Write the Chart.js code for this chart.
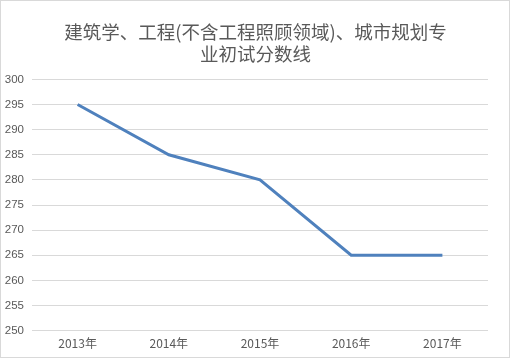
<!DOCTYPE html>
<html><head><meta charset="utf-8">
<script src="https://cdn.jsdelivr.net/npm/chart.js@4"></script>
<style>
html,body{margin:0;padding:0;background:#fff;}
#wrap{width:510px;height:358px;box-sizing:border-box;border:1px solid #d9d9d9;position:relative;}
canvas{display:block;}
</style></head>
<body>
<div id="wrap"><canvas id="c" width="508" height="356"></canvas></div>
<script>
const categories = ["2013年","2014年","2015年","2016年","2017年"];
const scores = [295, 285, 280, 265, 265];
const titleLines = ["建筑学、工程(不含工程照顾领域)、城市规划专","业初试分数线"];
const yMin = 250, yMax = 300, yStep = 5;

const shiftTitle = {
  id: 'shiftTitle',
  afterLayout(chart) {
    const t = chart.titleBlock;
    if (t) { t.left += 10; t.right += 10; }
  }
};

new Chart(document.getElementById('c'), {
  type: 'line',
  data: {
    labels: categories,
    datasets: [{
      data: scores,
      borderColor: '#4f81bd',
      borderWidth: 3,
      pointRadius: 0,
      tension: 0,
      fill: false
    }]
  },
  options: {
    responsive: false,
    animation: false,
    devicePixelRatio: 1,
    layout: { padding: { left: 2, right: 21, top: 10, bottom: 0 } },
    plugins: {
      legend: { display: false },
      tooltip: { enabled: false },
      title: {
        display: true,
        text: titleLines,
        color: '#595959',
        font: { family: "'Noto Sans CJK SC', sans-serif", size: 18.5, weight: 'normal', lineHeight: 1.2 },
        padding: { top: 10, bottom: 14 }
      }
    },
    scales: {
      x: {
        offset: true,
        grid: { display: false, drawTicks: false },
        border: { display: false },
        ticks: { color: '#595959', font: { family: "'Noto Sans CJK SC', sans-serif", size: 12 }, padding: 6, maxRotation: 0 }
      },
      y: {
        min: yMin, max: yMax,
        afterFit: (s) => { s.width = 29; },
        grid: { color: '#d9d9d9', drawTicks: false },
        border: { display: false },
        ticks: { stepSize: yStep, color: '#595959', font: { family: "'Liberation Sans', sans-serif", size: 11.5 }, padding: 8 }
      }
    }
  },
  plugins: [shiftTitle]
});
</script>
</body></html>
